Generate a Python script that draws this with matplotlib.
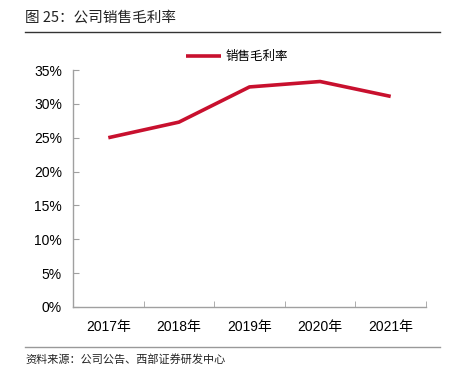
import matplotlib
matplotlib.use("Agg")
import matplotlib.pyplot as plt
from matplotlib.ticker import FuncFormatter, FixedLocator

plt.rcParams['font.family'] = ['Noto Sans CJK SC', 'DejaVu Sans']

years = ["2017年", "2018年", "2019年", "2020年", "2021年"]
gross_margin = [25.0, 27.3, 32.5, 33.3, 31.1]
series_name = "销售毛利率"
title = "图 25：公司销售毛利率"
source = "资料来源：公司公告、西部证券研发中心"

fig = plt.figure(figsize=(4.5, 3.66), dpi=100)
ax = fig.add_axes([73/450, 1-307/366, (426-73)/450, (307-70)/366])

x = list(range(len(years)))
ax.plot(x, gross_margin, color="#C8102E", lw=2.6, label=series_name, solid_capstyle="butt")

ax.set_xlim(-0.5, len(years)-0.5)
ax.set_ylim(0, 35)
ax.set_yticks(range(0, 36, 5))
ax.yaxis.set_major_formatter(FuncFormatter(lambda v, p: f"{int(v)}%"))
ax.set_xticks(x)
ax.set_xticklabels(years)
ax.xaxis.set_minor_locator(FixedLocator([i + 0.5 for i in range(-1, len(years))]))

for s in ["top", "right"]:
    ax.spines[s].set_visible(False)
for s in ["left", "bottom"]:
    ax.spines[s].set_color("#A0A0A0")
    ax.spines[s].set_linewidth(1.0)

ax.tick_params(axis="y", direction="in", length=4, color="#A0A0A0", labelsize=10, pad=8)
ax.tick_params(axis="x", which="major", length=0, labelsize=10, pad=9)
ax.tick_params(axis="x", which="minor", direction="in", length=4, color="#A0A0A0")
for lbl in ax.get_xticklabels() + ax.get_yticklabels():
    lbl.set_family(['Liberation Sans', 'Noto Sans CJK SC'])

leg = ax.legend(loc="upper center", bbox_to_anchor=(0.465, 1.13), frameon=False,
                fontsize=9, handlelength=2.8, handletextpad=0.4)

fig.text(25/450, 1-18/366, title, fontsize=10.5, va="center", ha="left", color="#222222")
fig.add_artist(plt.Line2D([25/450, 440/450], [1-32/366, 1-32/366], color="#333333", lw=1.0))
fig.add_artist(plt.Line2D([25/450, 440/450], [1-347/366, 1-347/366], color="#999999", lw=1.0))
fig.text(25/450, 1-359/366, source, fontsize=8, va="center", ha="left", color="#222222")

fig.savefig("out.png", dpi=100)
